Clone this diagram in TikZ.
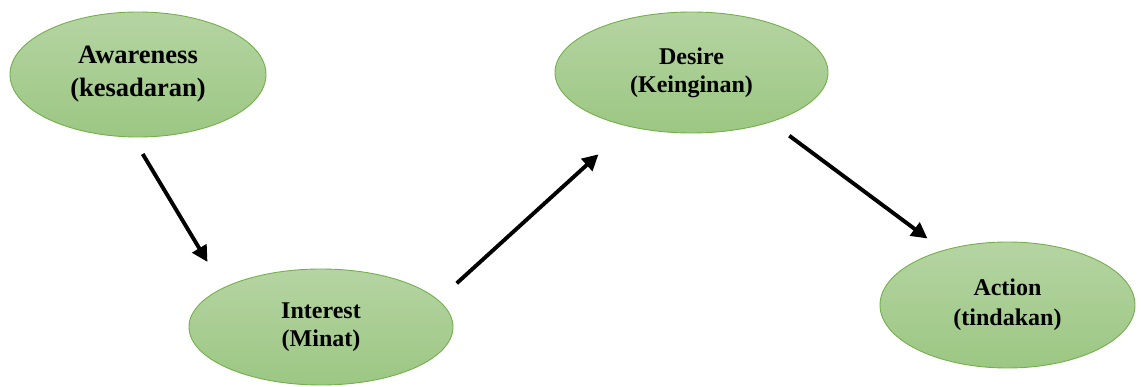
\documentclass[tikz,border=0pt]{standalone}
\usepackage{fontspec}
\setmainfont{Liberation Serif}
\usetikzlibrary{shapes.geometric,arrows.meta}
\definecolor{gtop}{RGB}{181,212,162}
\definecolor{gbot}{RGB}{156,199,131}
\definecolor{gline}{RGB}{116,175,76}
\tikzset{
  stage/.style={ellipse, draw=gline, line width=0.9pt, top color=gtop, bottom color=gbot,
    inner sep=0pt, align=center, font=\bfseries},
  flow/.style={line width=3.9pt, -{Triangle[length=16pt,width=16pt]}}
}
\begin{document}
\begin{tikzpicture}[x=1pt,y=-1pt]
\useasboundingbox (0,0) rectangle (1141,387);
\node[stage, minimum width=256pt, minimum height=125pt, font=\bfseries\fontsize{26.5}{33}\selectfont] (aw) at (138,74.5) {Awareness\\(kesadaran)};
\node[stage, minimum width=264pt, minimum height=116pt, font=\bfseries\fontsize{24}{28}\selectfont] (in) at (321,327) {Interest\\(Minat)};
\node[stage, minimum width=273pt, minimum height=121pt, font=\bfseries\fontsize{24}{28}\selectfont] (de) at (691.5,72.5) {Desire\\(Keinginan)};
\node[stage, minimum width=255pt, minimum height=126pt, font=\bfseries\fontsize{24}{30}\selectfont] (ac) at (1007.5,305) {Action\\(tindakan)};
\coordinate (a1s) at (142.7,154);
\coordinate (a1e) at (207.5,262);
\coordinate (a2s) at (456.7,283.3);
\coordinate (a2e) at (598.5,154.3);
\coordinate (a3s) at (789.3,135.7);
\coordinate (a3e) at (927.5,238.5);
\draw[flow] (a1s) -- (a1e);
\draw[flow] (a2s) -- (a2e);
\draw[flow] (a3s) -- (a3e);
\end{tikzpicture}
\end{document}
